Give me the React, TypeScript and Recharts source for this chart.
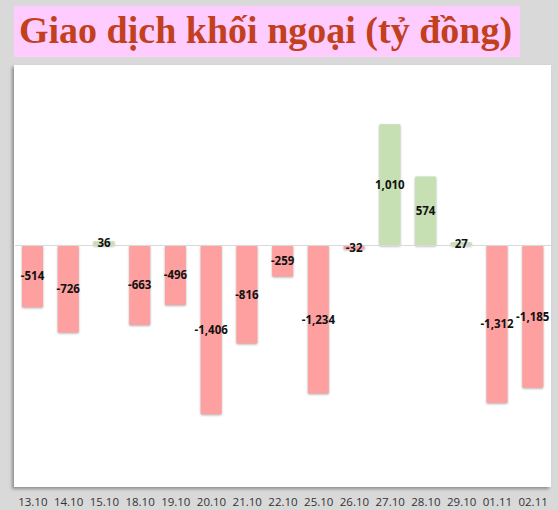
import { BarChart, Bar, XAxis, YAxis, Cell, LabelList, ReferenceLine } from 'recharts'

const dates = ['13.10', '14.10', '15.10', '18.10', '19.10', '20.10', '21.10', '22.10', '25.10', '26.10', '27.10', '28.10', '29.10', '01.11', '02.11']
const netValues = [-514, -726, 36, -663, -496, -1406, -816, -259, -1234, -32, 1010, 574, 27, -1312, -1185]

const RED = '#ffa0a0'
const GREEN = '#c6e0b4'

const data = dates.map((d, i) => ({ date: d, value: netValues[i] }))

function fmt(v: number) {
  return v.toLocaleString('en-US')
}

// eslint-disable-next-line @typescript-eslint/no-explicit-any
function ShadowBar(props: any) {
  const { x, y, width, height, fill } = props
  const h = Math.abs(height)
  const top = height < 0 ? y + height : y
  return (
    <rect
      x={x}
      y={top}
      width={width}
      height={h}
      rx={1}
      fill={fill}
      style={{ filter: 'drop-shadow(0px 1px 1px rgba(0,0,0,0.3))' }}
    />
  )
}

export default function App() {
  return (
    <div style={{ position: 'absolute', left: 0, top: 0, width: 558, height: 510, background: '#d9d9d9', overflow: 'hidden' }}>
      <div
        style={{
          position: 'absolute', left: 14, top: 6, width: 506, height: 51,
          background: '#ffccff',
        }}
      />
      <div
        style={{
          position: 'absolute', left: 19, top: 5, height: 51, lineHeight: '51px',
          fontFamily: '"Liberation Serif", "Times New Roman", serif', fontWeight: 700,
          fontSize: 38, color: '#c2401e', whiteSpace: 'nowrap',
        }}
      >
        Giao dịch khối ngoại (tỷ đồng)
      </div>
      <div
        style={{
          position: 'absolute', left: 14, top: 65, width: 537, height: 422,
          background: '#ffffff', boxShadow: '-2px 2px 3px rgba(0,0,0,0.35)',
        }}
      />
      <div style={{ position: 'absolute', left: 0, top: 0 }}>
        <BarChart
          width={558}
          height={510}
          data={data}
          margin={{ top: 77.5, right: 7, bottom: 0, left: 15 }}
          barSize={21}
        >
          <XAxis
            dataKey="date"
            axisLine={false}
            tickLine={false}
            tickSize={0}
            tickMargin={12}
            height={24.5}
            interval={0}
            tick={{ fontSize: 11.5, fill: '#333333', fontFamily: '"Open Sans", sans-serif' }}
          />
          <YAxis hide domain={[-2000, 1400]} width={0} />
          <ReferenceLine y={0} stroke="#d9d9d9" strokeWidth={1} />
          <Bar dataKey="value" isAnimationActive={false} shape={ShadowBar}>
            {data.map((d) => (
              <Cell key={d.date} fill={d.value < 0 ? RED : GREEN} />
            ))}
            <LabelList
              dataKey="value"
              position="center"
              formatter={(v: unknown) => fmt(Number(v))}
              style={{ fontSize: 11.5, fontWeight: 700, fill: '#111111', fontFamily: '"Open Sans", sans-serif' }}
            />
          </Bar>
        </BarChart>
      </div>
    </div>
  )
}
